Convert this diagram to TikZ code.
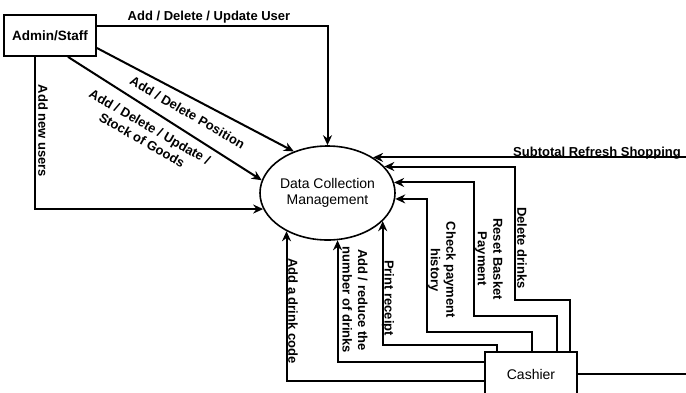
\documentclass[tikz,border=0pt]{standalone}
\usepackage{fontspec}
\setmainfont{Liberation Sans}
\usetikzlibrary{shapes.geometric, arrows.meta}

\begin{document}
\begin{tikzpicture}[
    x=1pt, y=-1pt,
    entity/.style={rectangle, draw, line width=1.8pt, inner sep=0pt},
    process/.style={ellipse, draw, line width=1.6pt, minimum width=135pt, minimum height=94pt, inner sep=0pt, align=center, font=\fontsize{14}{16}\selectfont},
    flow/.style={-{Stealth[length=10pt, width=9pt]}, line width=2pt},
    plain/.style={line width=2pt},
    lbl/.style={font=\bfseries\fontsize{13}{15.5}\selectfont, align=center, inner sep=0pt}
]
\useasboundingbox (0,0) rectangle (686,392);
\clip (0,0) rectangle (686,392);
\coordinate (edgeR) at (686,0);

\node[entity, minimum width=92pt, minimum height=41pt, font=\bfseries\fontsize{13.5}{16}\selectfont] (admin) at (50,35.5) {Admin/Staff};
\node[process] (dcm) at (327.5,193) {Data Collection\\Management};
\node[entity, minimum width=92pt, minimum height=44pt, font=\fontsize{14}{16}\selectfont] (cash) at (531,374) {Cashier};

% admin side
\draw[flow] ([yshift=9.5]admin.east) -| (dcm.north);
\draw[flow] ([yshift=-12.5]admin.east) -- (dcm.129);
\draw[flow] ([xshift=18]admin.south) -- (dcm.169);
\draw[flow] ([xshift=-15]admin.south) |- (dcm.194);

% cashier side
\draw[flow] (dcm.38 -| edgeR) -- (dcm.38);
\draw[flow] ([xshift=39]cash.north) |- (515,300) |- (dcm.25);
\draw[flow] ([xshift=26]cash.north) |- (474,316) |- (dcm.9);
\draw[flow] ([xshift=1]cash.north) |- (427,332) |- (dcm.-5);
\draw[flow] ([xshift=-34]cash.north) -- ++(0,-6) -| (dcm.-27);
\draw[flow] ([yshift=12]cash.west) -| (dcm.-78);
\draw[flow] ([yshift=-7]cash.west) -| (dcm.-137);
\draw[plain] (cash.east) -- (cash.east -| edgeR);

% labels
\node[lbl, anchor=base] (lUser) at (209,20) {Add / Delete / Update User};
\node[lbl, rotate=-90] (lNew) at (43,131) {Add new users};
\node[lbl, rotate=-30] (lPos) at (187.5,112.5) {Add / Delete Position};
\node[lbl, rotate=-30] (lStock) at (146,133.5) {Add / Delete / Update /\\Stock of Goods};
\node[lbl, anchor=base] (lSub) at (597,156) {Subtotal Refresh Shopping};
\node[lbl, rotate=-90] (lDel) at (522,248) {Delete drinks};
\node[lbl, rotate=-90] (lReset) at (489,259) {Reset Basket\\Payment};
\node[lbl, rotate=-90] (lCheck) at (442,270) {Check payment\\history};
\node[lbl, rotate=-90] (lPrint) at (388,298) {Print receipt};
\node[lbl, rotate=-90] (lQty) at (355,300) {Add / reduce the\\number of drinks};
\node[lbl, rotate=-90] (lCode) at (293,311) {Add a drink code};
\end{tikzpicture}
\end{document}
